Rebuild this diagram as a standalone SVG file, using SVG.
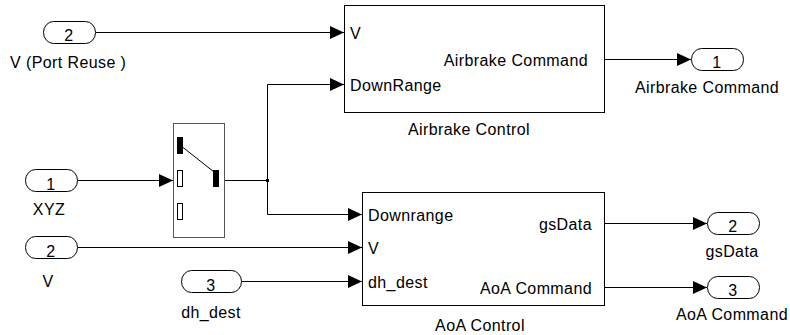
<svg xmlns="http://www.w3.org/2000/svg" width="790" height="335" viewBox="0 0 790 335">
  <defs>
    <marker id="arrow" markerUnits="userSpaceOnUse" markerWidth="15" markerHeight="14" refX="14" refY="6.5" orient="auto">
      <path d="M0,0 L14,6.5 L0,13 z" fill="#000"/>
    </marker>
    <style>
      text { font-family: "Liberation Sans", Arial, sans-serif; font-size: 16px; letter-spacing: 0.4px; fill: #000; }
      .mid { text-anchor: middle; }
      .end { text-anchor: end; }
      .port { fill: #fff; stroke: #000; stroke-width: 1; }
      .block { fill: #fff; stroke: #000; stroke-width: 1; }
      .wire { fill: none; stroke: #000; stroke-width: 1; marker-end: url(#arrow); }
      .plain { fill: none; stroke: #000; stroke-width: 1; }
    </style>
  </defs>
  <rect width="790" height="335" fill="#fff"/>

  <!-- signal lines -->
  <g id="connectors">
    <path class="wire" d="M95.5,32.5 H344"/>
    <path class="wire" d="M604.5,59.5 H691"/>
    <path class="wire" d="M77.5,180.5 H173"/>
    <path class="plain" d="M224.5,180.5 H267.5"/>
    <rect x="266" y="179" width="3" height="3" fill="#000"/>
    <path class="wire" d="M267.5,180.5 V84.5 H344"/>
    <path class="wire" d="M267.5,180.5 V214.5 H362"/>
    <path class="wire" d="M77.5,247.5 H362"/>
    <path class="wire" d="M241.5,281.5 H362"/>
    <path class="wire" d="M604.5,223.5 H707"/>
    <path class="wire" d="M604.5,287.5 H707"/>
  </g>

  <!-- inports -->
  <g id="in_v_reuse">
    <rect class="port" x="43.5" y="21.5" width="52" height="22" rx="10" ry="11"/>
    <text class="mid" x="69" y="41">2</text>
    <text x="10" y="68">V (Port Reuse )</text>
  </g>
  <g id="in_xyz">
    <rect class="port" x="25.5" y="169.5" width="52" height="22" rx="10" ry="11"/>
    <text class="mid" x="51" y="190">1</text>
    <text class="mid" x="49" y="215">XYZ</text>
  </g>
  <g id="in_v">
    <rect class="port" x="25.5" y="236.5" width="52" height="22" rx="10" ry="11"/>
    <text class="mid" x="51" y="257">2</text>
    <text class="mid" x="48" y="287">V</text>
  </g>
  <g id="in_dh_dest">
    <rect class="port" x="181.5" y="270.5" width="60" height="22" rx="10" ry="11"/>
    <text class="mid" x="211" y="291">3</text>
    <text class="mid" x="211" y="318">dh_dest</text>
  </g>

  <!-- multiport switch -->
  <g id="switch">
    <rect x="173.5" y="123.5" width="51" height="114" fill="#fff" stroke="#555" stroke-width="1"/>
    <rect x="177" y="137" width="6" height="17" fill="#000"/>
    <rect x="177.5" y="170.5" width="5" height="16" fill="#fff" stroke="#000"/>
    <rect x="177.5" y="203.5" width="5" height="16" fill="#fff" stroke="#000"/>
    <rect x="213" y="170" width="6" height="17" fill="#000"/>
    <line x1="182.5" y1="147" x2="214" y2="172" stroke="#000" stroke-width="1"/>
  </g>

  <!-- airbrake control subsystem -->
  <g id="airbrake_control">
    <rect class="block" x="344.5" y="5.5" width="260" height="107"/>
    <text x="350" y="39">V</text>
    <text x="350" y="91">DownRange</text>
    <text class="end" x="588" y="66">Airbrake Command</text>
    <text class="mid" x="469" y="135">Airbrake Control</text>
  </g>

  <!-- AoA control subsystem -->
  <g id="aoa_control">
    <rect class="block" x="362.5" y="192.5" width="242" height="113"/>
    <text x="368" y="221">Downrange</text>
    <text x="368" y="254">V</text>
    <text x="368" y="288">dh_dest</text>
    <text class="end" x="592" y="230">gsData</text>
    <text class="end" x="592" y="294">AoA Command</text>
    <text class="mid" x="480" y="331">AoA Control</text>
  </g>

  <!-- outports -->
  <g id="out_airbrake">
    <rect class="port" x="691.5" y="48.5" width="52" height="22" rx="10" ry="11"/>
    <text class="mid" x="717" y="68">1</text>
    <text class="mid" x="707" y="93">Airbrake Command</text>
  </g>
  <g id="out_gsdata">
    <rect class="port" x="707.5" y="212.5" width="52" height="22" rx="10" ry="11"/>
    <text class="mid" x="733" y="232">2</text>
    <text class="mid" x="732" y="257">gsData</text>
  </g>
  <g id="out_aoa">
    <rect class="port" x="707.5" y="276.5" width="52" height="22" rx="10" ry="11"/>
    <text class="mid" x="733" y="296">3</text>
    <text class="mid" x="732" y="320">AoA Command</text>
  </g>
</svg>
